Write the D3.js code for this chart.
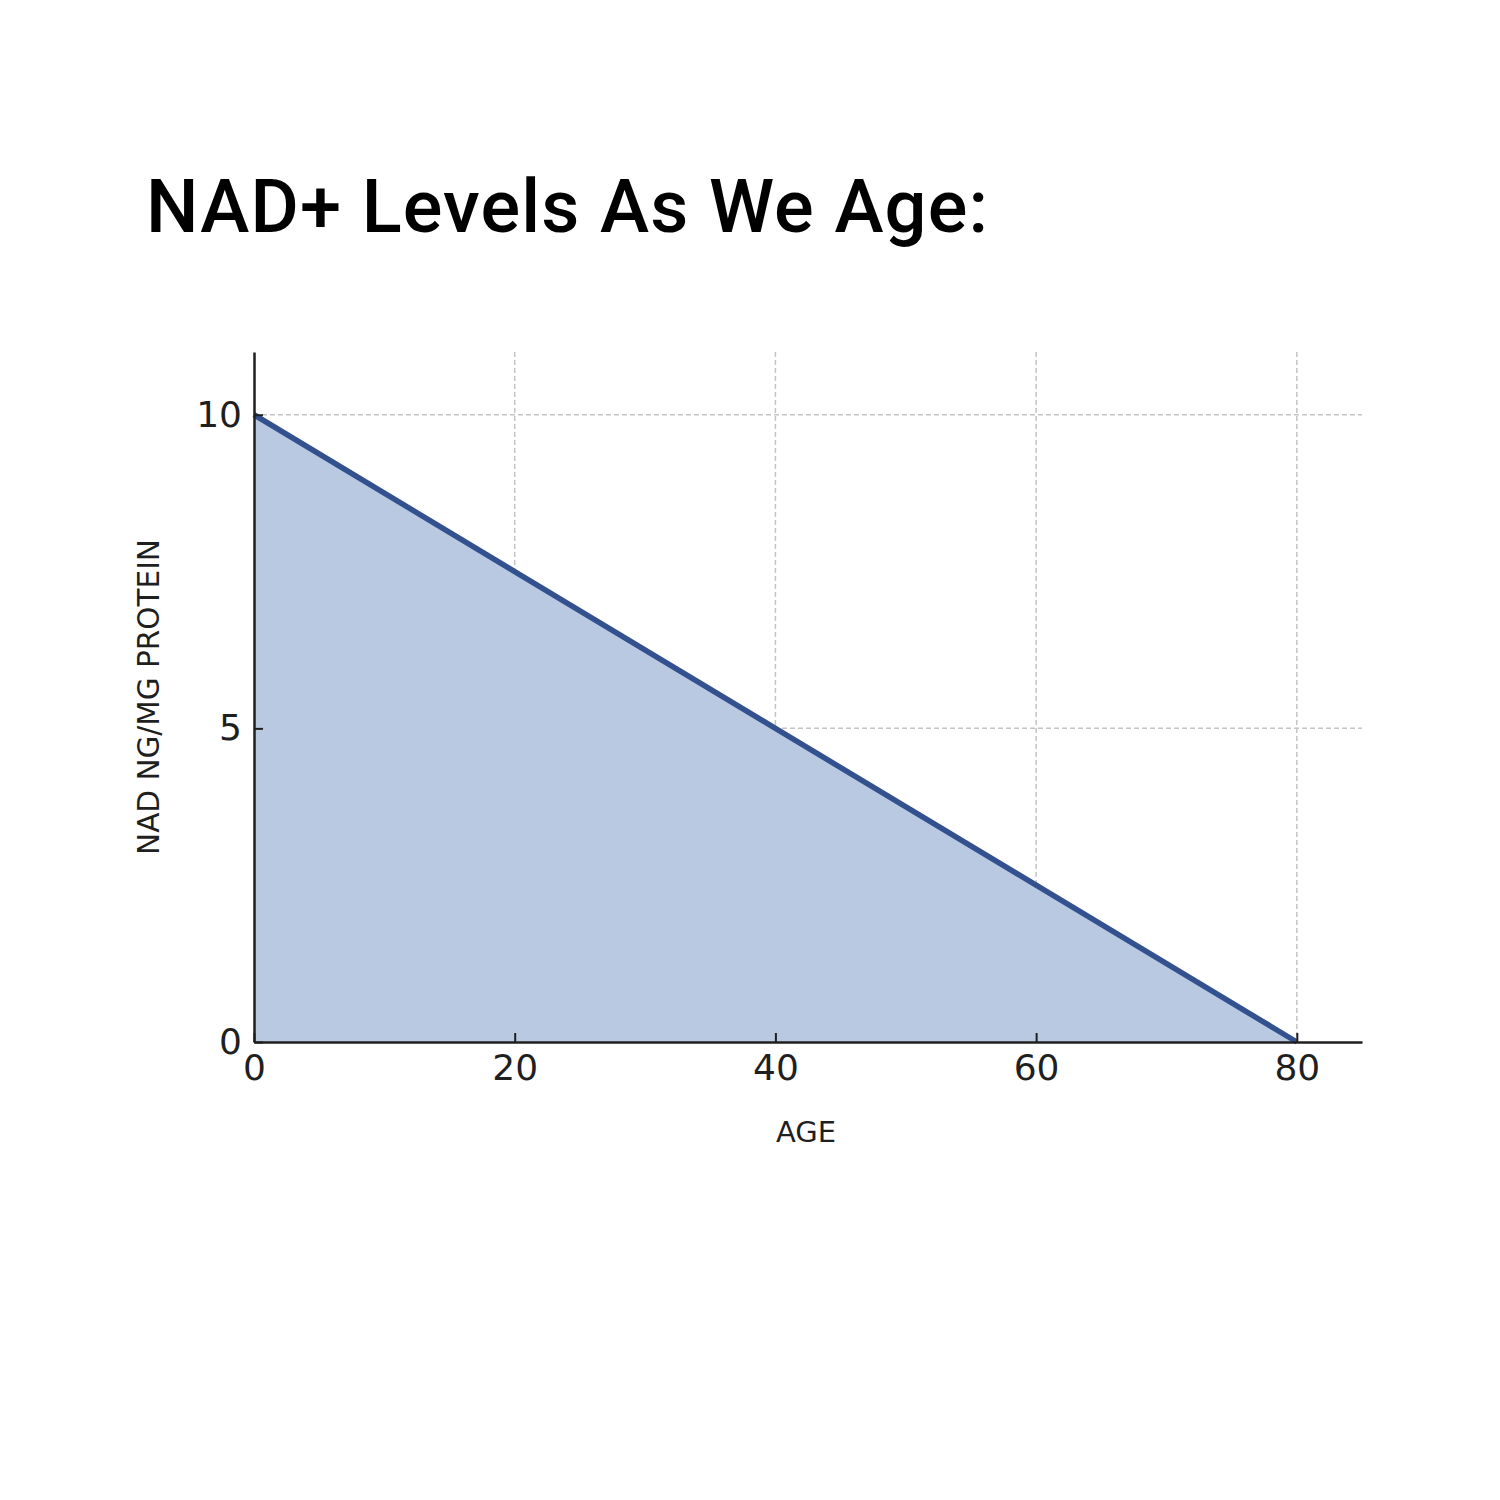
<!DOCTYPE html>
<html>
<head>
<meta charset="utf-8">
<script src="https://cdn.jsdelivr.net/npm/d3@7"></script>
<style>
  html, body { margin: 0; padding: 0; background: #fff; }
  svg { display: block; }
</style>
</head>
<body>
<script>
// Age (years) and NAD levels (ng/mg protein)
const ages = [0, 20, 40, 60, 80];
const nadLevels = [10, 7.5, 5, 2.5, 0];
const xTicks = [0, 20, 40, 60, 80];
const yTicks = [0, 5, 10];
const titleText = "NAD+ Levels As We Age:";
const xLabel = "AGE";
const yLabel = "NAD NG/MG PROTEIN";

const W = 1500, H = 1500;
const margin = { left: 254, right: 138, top: 352, bottom: 458 };
const innerW = W - margin.left - margin.right;
const innerH = H - margin.top - margin.bottom;

const svg = d3.select("body").append("svg")
  .attr("width", W).attr("height", H);

const x = d3.scaleLinear().domain([0, 85]).range([0, innerW]);
const y = d3.scaleLinear().domain([0, 11]).range([innerH, 0]);

const g = svg.append("g").attr("transform", `translate(${margin.left},${margin.top})`);

// Dashed grid
g.append("g").selectAll("line").data(xTicks.filter(d => d > 0)).join("line")
  .attr("x1", d => x(d)).attr("x2", d => x(d))
  .attr("y1", 0).attr("y2", innerH)
  .attr("stroke", "#c4c4c4").attr("stroke-width", 1.5).attr("stroke-dasharray", "5,3");
g.append("g").selectAll("line").data(yTicks.filter(d => d > 0)).join("line")
  .attr("x1", 0).attr("x2", innerW)
  .attr("y1", d => y(d)).attr("y2", d => y(d))
  .attr("stroke", "#c4c4c4").attr("stroke-width", 1.5).attr("stroke-dasharray", "5,3");

const pts = ages.map((a, i) => ({ a, v: nadLevels[i] }));

// Area under the curve
g.append("path").datum(pts)
  .attr("d", d3.area().x(d => x(d.a)).y0(y(0)).y1(d => y(d.v)))
  .attr("fill", "#b9c9e1");

// Decline line
g.append("path").datum(pts)
  .attr("d", d3.line().x(d => x(d.a)).y(d => y(d.v)))
  .attr("fill", "none").attr("stroke", "#32518e").attr("stroke-width", 5.5);

// Axes with inward ticks
const xAxis = g.append("g").attr("transform", `translate(0,${innerH})`)
  .call(d3.axisBottom(x).tickValues(xTicks).tickSize(-9).tickPadding(24).tickSizeOuter(0));
const yAxis = g.append("g")
  .call(d3.axisLeft(y).tickValues(yTicks).tickSize(-9).tickPadding(12).tickSizeOuter(0));

[xAxis, yAxis].forEach(ax => {
  ax.select(".domain").attr("stroke", "#1f1f1f").attr("stroke-width", 2.5);
  ax.selectAll(".tick line").attr("stroke", "#1f1f1f").attr("stroke-width", 2);
  ax.selectAll(".tick text")
    .attr("font-family", "DejaVu Sans").attr("font-size", 36).attr("fill", "#1f1f1f");
});
xAxis.selectAll(".tick text").attr("dy", "0.4em");

// Axis titles
svg.append("text")
  .attr("x", 806).attr("y", 1142)
  .attr("text-anchor", "middle")
  .attr("font-family", "DejaVu Sans").attr("font-size", 29).attr("fill", "#1f1f1f")
  .text(xLabel);
svg.append("text")
  .attr("transform", "translate(159,697) rotate(-90)")
  .attr("text-anchor", "middle")
  .attr("font-family", "DejaVu Sans").attr("font-size", 29.5).attr("fill", "#1f1f1f")
  .text(yLabel);

// Title: medium-weight sans, spaced to its set width
const title = svg.append("text")
  .attr("x", 146).attr("y", 232)
  .attr("font-family", "Roboto").attr("font-weight", 500)
  .attr("font-size", 74).attr("fill", "#000")
  .text(titleText);
const natural = title.node().getComputedTextLength();
title.attr("letter-spacing", (842 - natural) / (titleText.length - 1));
</script>
</body>
</html>
